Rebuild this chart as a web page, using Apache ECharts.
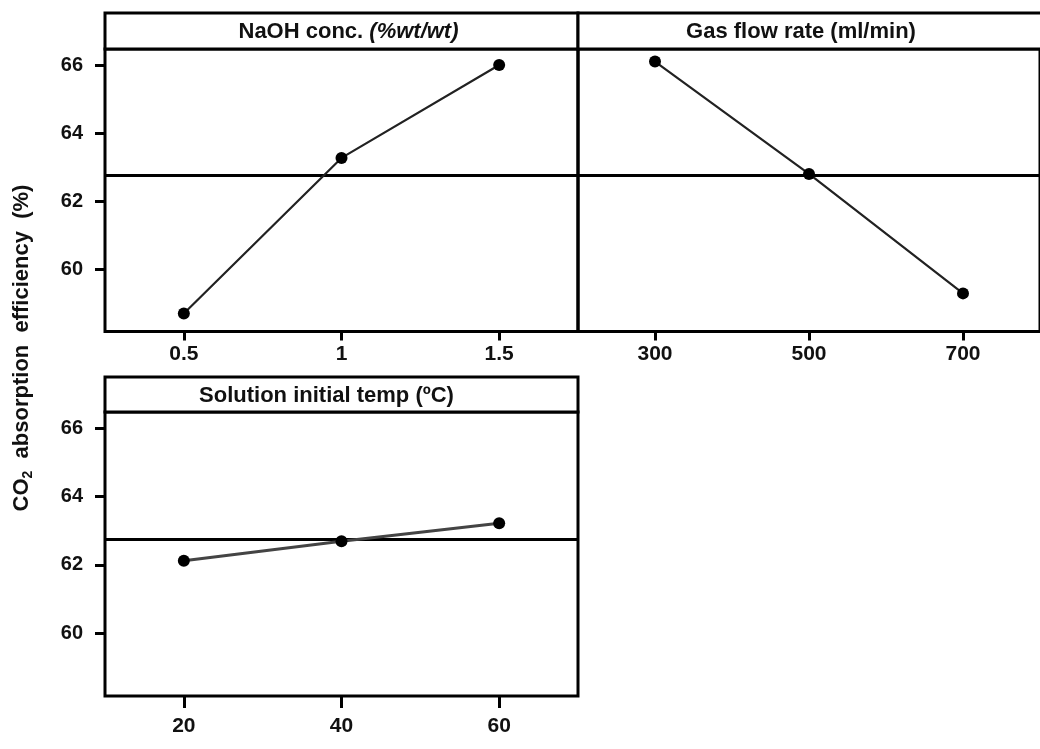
<!DOCTYPE html>
<html>
<head>
<meta charset="utf-8">
<script src="https://cdn.jsdelivr.net/npm/echarts@6/dist/echarts.min.js"></script>
<style>
html,body{margin:0;padding:0;background:#fff;}
#chart{width:1040px;height:749px;}
</style>
</head>
<body>
<div id="chart"></div>
<script>
// ---- data ----
const panelTitles = ['NaOH conc. ', 'Gas flow rate (ml/min)', 'Solution initial temp (ºC)'];
const naohLevels = [0.5, 1, 1.5];
const naohEff = [58.70, 63.27, 66.00];
const gasLevels = [300, 500, 700];
const gasEff = [66.10, 62.80, 59.29];
const tempLevels = [20, 40, 60];
const tempEff = [62.12, 62.69, 63.22];
const grandMean = 62.75;
const yTickValues = [60, 62, 64, 66];

const FONT = "'Liberation Sans', Arial, sans-serif";
const chart = echarts.init(document.getElementById('chart'));

const gridBase = {show: true, borderColor: '#000', borderWidth: 3, backgroundColor: 'transparent'};
const grids = [
  Object.assign({left: 105, right: 462, top: 49, bottom: 417.5}, gridBase),
  Object.assign({left: 578, right: -11, top: 49, bottom: 417.5}, gridBase),
  Object.assign({left: 105, right: 462, top: 412, bottom: 53}, gridBase)
];

function xAxis(idx, min, max, values, tickLen, margin) {
  return {
    type: 'value', gridIndex: idx, min: min, max: max,
    axisLine: {show: false},
    splitLine: {show: false},
    axisTick: {show: true, customValues: values, length: tickLen, lineStyle: {color: '#000', width: 3}},
    axisLabel: {show: true, customValues: values, margin: margin, color: '#111',
      fontFamily: FONT, fontWeight: 'bold', fontSize: 21}
  };
}
function yAxis(idx, showLabels) {
  return {
    type: 'value', gridIndex: idx, min: 58.17, max: 66.47,
    axisLine: {show: false},
    splitLine: {show: false},
    axisTick: {show: showLabels, customValues: yTickValues, length: 10, lineStyle: {color: '#000', width: 3}},
    axisLabel: {show: showLabels, customValues: yTickValues, margin: 22, color: '#111',
      fontFamily: FONT, fontWeight: 'bold', fontSize: 20}
  };
}

function pairs(xs, ys) { return xs.map((x, i) => [x, ys[i]]); }

function series(idx, xs, ys, lineColor, lineWidth) {
  return {
    type: 'line', xAxisIndex: idx, yAxisIndex: idx,
    data: pairs(xs, ys),
    symbol: 'circle', symbolSize: 12,
    itemStyle: {color: '#000'},
    lineStyle: {color: lineColor, width: lineWidth},
    z: 3,
    markLine: {
      silent: true, symbol: ['none', 'none'], label: {show: false},
      lineStyle: {color: '#000', width: 3, type: 'solid'},
      data: [{yAxis: grandMean}],
      z: 2
    }
  };
}

function header(x, y, w, h, richText, dx) {
  return {
    type: 'group',
    children: [
      {type: 'rect', shape: {x: x, y: y, width: w, height: h},
        style: {fill: '#fff', stroke: '#000', lineWidth: 3}},
      {type: 'text', x: x + w / 2 + dx, y: y + h / 2 + 1,
        style: {text: richText, align: 'center', verticalAlign: 'middle',
          font: "bold 22px " + FONT, fill: '#111',
          rich: {
            b: {fontFamily: FONT, fontWeight: 'bold', fontSize: 22, fill: '#111'},
            i: {fontFamily: FONT, fontWeight: 'bold', fontStyle: 'italic', fontSize: 22, fill: '#111'}
          }}}
    ]
  };
}

chart.setOption({
  animation: false,
  backgroundColor: '#fff',
  grid: grids,
  xAxis: [
    xAxis(0, 0.25, 1.75, naohLevels, 9, 12),
    xAxis(1, 200, 800, gasLevels, 9, 12),
    xAxis(2, 10, 70, tempLevels, 12, 20)
  ],
  yAxis: [yAxis(0, true), yAxis(1, false), yAxis(2, true)],
  series: [
    series(0, naohLevels, naohEff, '#222', 2.2),
    series(1, gasLevels, gasEff, '#222', 2.2),
    series(2, tempLevels, tempEff, '#444', 3)
  ],
  graphic: [
    header(105, 13, 473, 36, '{b|' + panelTitles[0] + '}{i|(%wt/wt)}', 7),
    header(578, 13, 474, 36, '{b|' + panelTitles[1] + '}', -14),
    header(105, 377, 473, 35, '{b|' + panelTitles[2] + '}', -15),
    {
      type: 'text', x: 22, y: 348, rotation: Math.PI / 2,
      style: {
        text: '{a|CO}{s|2}{a|  absorption  efficiency  (%)}',
        align: 'center', verticalAlign: 'middle', fill: '#111',
        font: "bold 22px " + FONT,
        rich: {
          a: {fontFamily: FONT, fontWeight: 'bold', fontSize: 22, fill: '#111', lineHeight: 26},
          s: {fontFamily: FONT, fontWeight: 'bold', fontSize: 14, fill: '#111', lineHeight: 26, padding: [13, 0, 0, 0]}
        }
      }
    }
  ]
});
</script>
</body>
</html>
